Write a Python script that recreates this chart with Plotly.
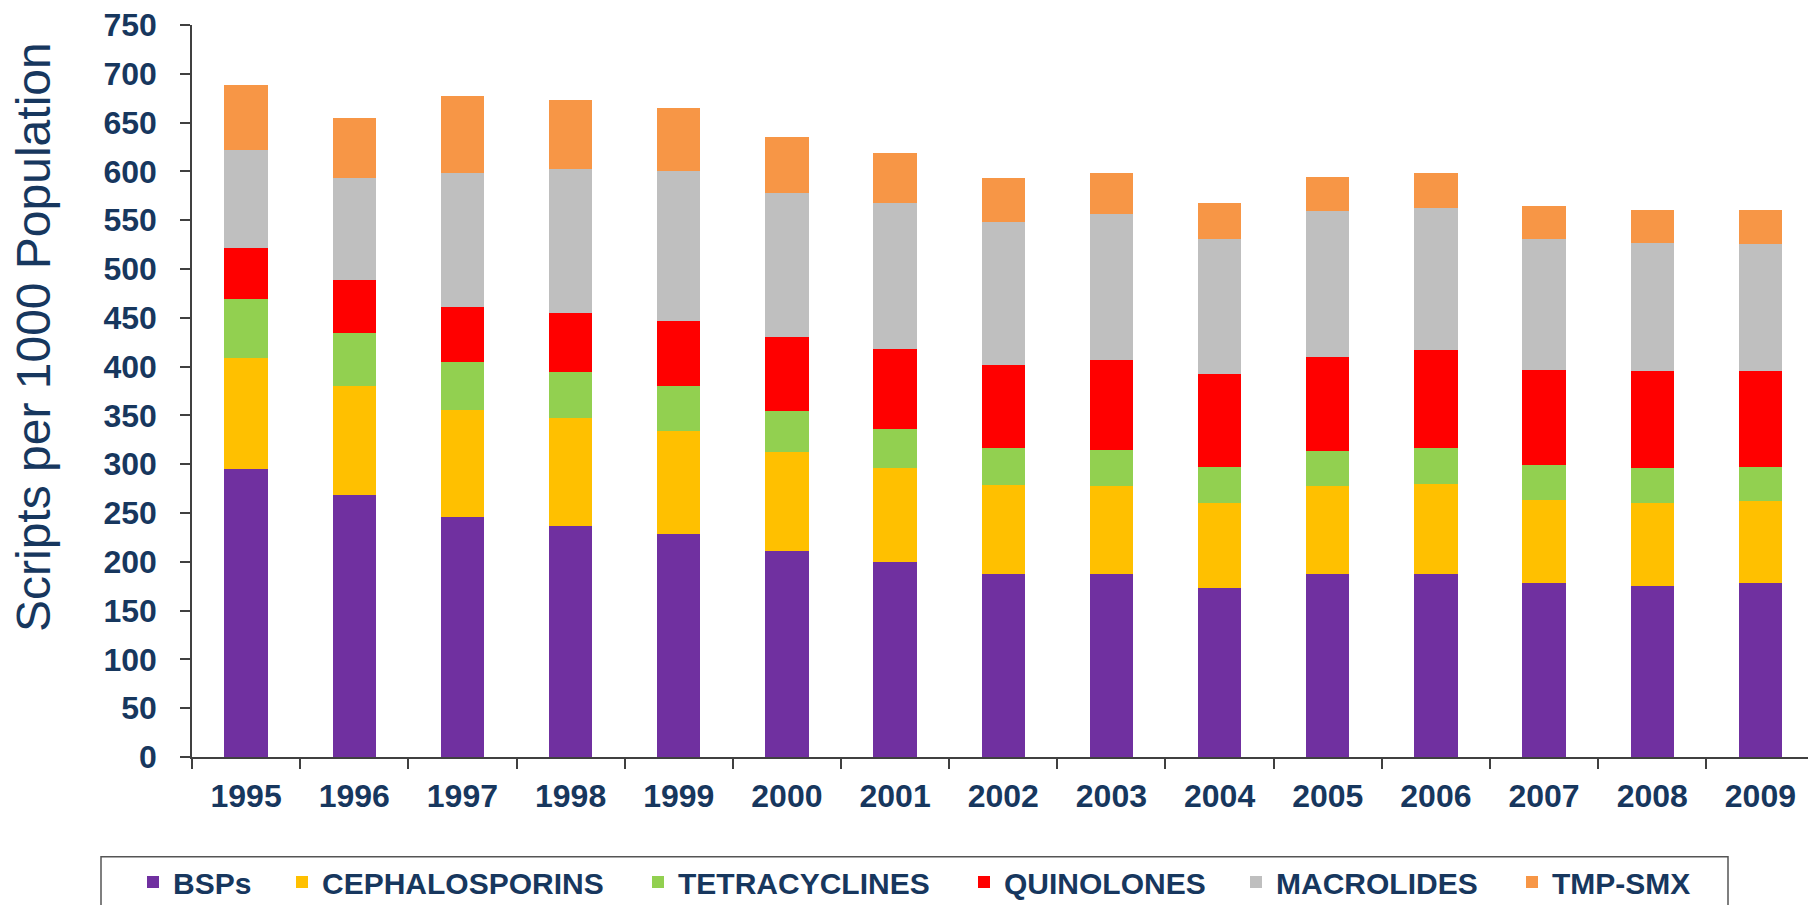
import plotly.graph_objects as go

years = ["1995", "1996", "1997", "1998", "1999", "2000", "2001", "2002",
         "2003", "2004", "2005", "2006", "2007", "2008", "2009"]

bsps = [295, 268, 246, 237, 228, 211, 200, 187, 187, 173, 187, 188, 178, 175, 178]
cephalosporins = [114, 112, 110, 110, 106, 101, 96, 92, 91, 87, 91, 92, 85, 85, 84]
tetracyclines = [60, 54, 49, 47, 46, 43, 40, 38, 37, 37, 36, 37, 36, 36, 35]
quinolones = [53, 55, 56, 61, 67, 75, 82, 85, 92, 95, 96, 100, 98, 99, 98]
macrolides = [100, 104, 137, 147, 153, 148, 150, 146, 149, 139, 149, 145, 134, 132, 131]
tmp_smx = [67, 62, 79, 71, 65, 57, 51, 45, 42, 37, 35, 36, 34, 33, 34]

series_names = ["BSPs", "CEPHALOSPORINS", "TETRACYCLINES", "QUINOLONES", "MACROLIDES", "TMP-SMX"]
series_values = [bsps, cephalosporins, tetracyclines, quinolones, macrolides, tmp_smx]
series_colors = ["#7030A0", "#FFC000", "#92D050", "#FF0000", "#BFBFBF", "#F79646"]

y_ticks = list(range(0, 751, 50))

W, H = 1808, 905
ML, MR, MT, MB = 192, 0, 25, 148
NAVY = "#17375E"
FONT = "Liberation Sans, Arial, sans-serif"

# legend text start positions (px) for each entry
legend_text_x = [172, 321, 677, 1003, 1275, 1551]

fig = go.Figure()
for i, (name, vals, col) in enumerate(zip(series_names, series_values, series_colors)):
    lg = "legend" if i == 0 else f"legend{i+1}"
    fig.add_trace(go.Bar(
        x=years, y=vals, name=name,
        marker=dict(color=col, line=dict(width=0)),
        legend=lg, showlegend=True,
    ))

layout_legends = {}
for i, tx in enumerate(legend_text_x):
    key = "legend" if i == 0 else f"legend{i+1}"
    layout_legends[key] = dict(
        xref="container", yref="container",
        x=(tx - 39) / W, y=(H - 882) / H,
        xanchor="left", yanchor="middle",
        orientation="h",
        font=dict(family=FONT, size=30, color=NAVY, weight="bold"),
        bgcolor="rgba(0,0,0,0)", borderwidth=0,
        visible=True,
    )

plot_h = H - MT - MB
plot_w = W - ML - MR

def px_to_paper_x(px):
    return (px - ML) / plot_w

def px_to_paper_y(py):
    return (H - MB - py) / plot_h

fig.update_layout(
    width=W, height=H,
    showlegend=True,
    margin=dict(l=ML, r=MR, t=MT, b=MB, autoexpand=False),
    barmode="stack",
    bargap=0.6,
    plot_bgcolor="white", paper_bgcolor="white",
    font=dict(family=FONT, color=NAVY),
    xaxis=dict(
        type="category",
        range=[-0.5, 14.44],
        showline=True, linecolor="#404040", linewidth=1.5,
        ticks="outside", tickson="boundaries", ticklen=10, tickwidth=1.5, tickcolor="#404040",
        tickfont=dict(family=FONT, size=32, color=NAVY, weight="bold"),
        ticklabelstandoff=10,
        showgrid=False, zeroline=False,
    ),
    yaxis=dict(
        range=[0, 750],
        tickvals=y_ticks,
        showline=True, linecolor="#404040", linewidth=1.5,
        ticks="outside", ticklen=10, tickwidth=1.5, tickcolor="#404040",
        tickfont=dict(family=FONT, size=32, color=NAVY, weight="bold"),
        ticklabelstandoff=17,
        showgrid=False, zeroline=False,
    ),
    annotations=[dict(
        text="Scripts per 1000 Population",
        textangle=-90,
        xref="paper", yref="paper",
        x=px_to_paper_x(33), y=px_to_paper_y(337),
        xanchor="center", yanchor="middle",
        showarrow=False,
        font=dict(family=FONT, size=48, color=NAVY),
    )],
    shapes=[dict(
        type="rect", xref="paper", yref="paper",
        x0=px_to_paper_x(101), x1=px_to_paper_x(1728),
        y0=px_to_paper_y(856.7), y1=px_to_paper_y(915),
        line=dict(color="#555555", width=1.5),
        fillcolor="rgba(0,0,0,0)",
        layer="above",
    )],
    **layout_legends,
)

fig.write_html(
    "out.html",
    config={"displayModeBar": False},
    post_script="document.body.style.margin='0';document.body.style.overflow='hidden';",
)
